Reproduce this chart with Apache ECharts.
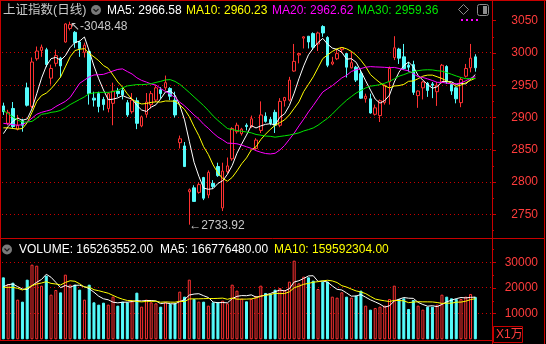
<!DOCTYPE html>
<html><head><meta charset="utf-8">
<script src="https://cdn.jsdelivr.net/npm/echarts@6/dist/echarts.min.js"></script>
<style>html,body{margin:0;padding:0;background:#000;}#c{width:546px;height:344px;}</style>
</head><body><div id="c"></div>
<script>
// ---- data ----
const opens = [2918,2891,2914,2882,2895,2946,2917,2991,3004,3005,
 2961,2984,2992,3017,3038,3032,3017,3001,3002,2930,
 2937,2928,2914,2922,2941,2942,2923,2909,2926,2887,
 2905,2920,2927,2943,2946,2945,2927,2861,2856,2785,
 2791,2784,2807,2780,2798,2824,2760,2816,2836,2878,
 2875,2888,2886,2852,2880,2902,2897,2908,2888,2926,
 2927,2972,2997,3023,3026,3030,3014,3041,3024,2983,
 2991,3005,2999,2977,2978,2968,2929,2929,2905,2903,
 2923,2955,2993,3006,2994,2981,2982,2934,2946,2953,
 2952,2940,2955,2979,2951,2946,2923,2964,2977,2994];
const closes = [2909,2908,2886,2888,2888,2919,2986,3003,3009,2982,
 2976,2996,2980,3045,3044,3016,3007,3012,2937,2927,
 2917,2920,2937,2941,2937,2935,2904,2927,2891,2901,
 2924,2937,2946,2937,2954,2933,2904,2867,2824,2788,
 2770,2796,2775,2815,2793,2810,2817,2825,2883,2888,
 2882,2886,2898,2865,2904,2894,2891,2888,2925,2931,
 2958,2987,2999,3025,3017,3009,3031,3031,2981,2986,
 2999,3008,2978,2985,2958,2930,2933,2907,2915,2926,
 2950,2976,3008,2992,2976,2978,2939,2941,2955,2942,
 2950,2950,2981,2955,2941,2929,2959,2976,2992,2977];
const highs = [2923,2912,2924,2904,2898,2954,2993,3010,3013,3008,
 2982,3005,2994,3046,3048.48,3034,3019,3016,3004,2940,
 2940,2932,2939,2954,2946,2946,2927,2938,2931,2903,
 2938,2941,2950,2947,2965,2947,2940,2872,2862,2790,
 2795,2800,2808,2818,2803,2830,2830,2838,2885,2892,
 2884,2891,2903,2868,2925,2908,2901,2912,2930,2932,
 2963,3014,3000,3026,3026,3032,3033,3043,3026,2994,
 3006,3009,3000,3002,2980,2974,2937,2937,2920,2928,
 2951,2979,3026,3008,3014,2986,2988,2942,2957,2955,
 2955,2955,2983,2981,2953,2948,2962,2983,3014,2998];
const lows = [2904,2888,2883,2880,2878,2917,2914,2988,2994,2978,
 2951,2979,2962,3016,3035,3008,2994,2993,2920,2917,
 2908,2911,2908,2888,2932,2928,2901,2906,2882,2885,
 2900,2914,2924,2929,2942,2927,2900,2852,2824,2733.92,
 2770,2782,2772,2775,2790,2808,2755,2813,2833,2875,
 2872,2880,2884,2850,2876,2892,2888,2876,2885,2917,
 2925,2971,2984,3007,3007,3005,3003,3025,2978,2981,
 2989,3000,2962,2976,2955,2929,2923,2906,2903,2893,
 2920,2920,2989,2983,2974,2971,2935,2915,2928,2932,
 2930,2918,2953,2952,2935,2922,2916,2962,2970,2971];
// volume in units of 10,000 (X1万)
const volumes = [24160,21560,22080,15460,14680,23250,29100,28700,20910,24810,
 17400,19220,18300,25200,21300,21300,19350,15460,21300,14420,
 13510,14290,13510,16630,13120,14680,14420,14810,18190,12730,
 15460,14420,14030,12730,14420,13770,14030,18580,16630,23250,
 15720,14680,14680,13120,14420,14420,15070,14030,21300,18970,
 15850,14810,15720,16890,20910,18060,17670,19350,20000,19220,
 22470,30660,21820,24420,24160,22860,19610,22470,22470,16630,
 16240,18320,16630,16240,17020,18970,13120,11560,12210,12730,
 13120,15720,20910,15720,15980,11820,15330,13120,11560,12730,
 12730,13510,17400,16630,15980,15720,15720,16630,17670,16526];
// moving-average values before enough bars are visible
const ma5Head = [2875,2886,2894,2899];
const ma10Head = [2884,2884,2883,2882,2883,2892,2908,2925,2934];
const ma20Head = [2891,2890,2889,2888,2889,2893,2899,2905,2908,2910,2912,2917,2921,2925,2931,2942,2953,2958,2963];
const ma30Head = [2911,2906,2901,2896,2893,2893,2894,2899,2905,2906,2908,2909,2911,2915,2920,2924,2928,2932,2937,2938,2939,2939,2939,2940,2942,2946,2949,2950,2951];
const vma5Head = [20520,21300,21560,20520];
const vma10Head = [20260,20260,20260,19870,19220,20000,20910,21560,21950];
const priceTicks = [2750,2800,2850,2900,2950,3000,3050];
const priceMinorTicks = [2725,2775,2825,2875,2925,2975,3025];
const priceGridLines = [2750,2800,2850,2900,2950,3000];
const volTicks = [10000,20000,30000];
const volMinorTicks = [15000,25000,35000];
const volGridLines = [10000,20000,30000];
const emptySlots = 3;

// ---- build ----
const N = closes.length;
const cats = [];
for (let i = 0; i < N + emptySlots; i++) cats.push(String(i + 1));
function ma(arr, n, head) {
  const out = [];
  for (let i = 0; i < arr.length; i++) {
    if (i < n - 1) { out.push(head[i]); continue; }
    let s = 0; for (let k = i - n + 1; k <= i; k++) s += arr[k];
    out.push(+(s / n).toFixed(2));
  }
  return out;
}
const kData = opens.map((o, i) => [o, closes[i], lows[i], highs[i]]);
const RED = '#ff3232', CYAN = '#54fcfc', AX = '#c80000', LBL = '#ff3c3c', GRIDC = '#c80000';
const FONT = '"Liberation Sans", Arial, sans-serif';
const volData = volumes.map((v, i) => closes[i] >= opens[i]
  ? { value: v, itemStyle: { color: '#000', borderColor: RED, borderWidth: 1 } }
  : { value: v, itemStyle: { color: CYAN, borderColor: CYAN, borderWidth: 1 } });
let hiIdx = 0, loIdx = 0;
highs.forEach((h, i) => { if (h > highs[hiIdx]) hiIdx = i; });
lows.forEach((l, i) => { if (l < lows[loIdx]) loIdx = i; });

function lineS(name, data, color, xi, yi) {
  return { name, type: 'line', data, xAxisIndex: xi, yAxisIndex: yi, showSymbol: false, symbol: 'none',
    lineStyle: { color, width: 1 }, itemStyle: { color }, silent: true, z: 3 };
}
function tx(text, x, y, fill, size, fam) {
  return { type: 'text', x, y, silent: true, z: 100,
    style: { text, fill, font: (size || 12) + 'px ' + (fam || FONT), verticalAlign: 'middle' } };
}
const plain = v => String(Math.round(v));
const P_TOP = 16, P_H = 222, P_MIN = 2713.3, P_MAX = 3057.3;
const V_TOP = 240, V_H = 99.3, V_MAX = 38713;
const G_LEFT = 1, G_RIGHT = 54, W = 546;

const decor = [
  { type: 'line', silent: true, z: 90, shape: { x1: 0.5, y1: 0, x2: 0.5, y2: 341 }, style: { stroke: AX, lineWidth: 1 } },
  { type: 'line', silent: true, z: 90, shape: { x1: 0, y1: 0.5, x2: 546, y2: 0.5 }, style: { stroke: AX, lineWidth: 1 } },
  { type: 'line', silent: true, z: 90, shape: { x1: 544.5, y1: 0, x2: 544.5, y2: 344 }, style: { stroke: AX, lineWidth: 1 } },
  { type: 'line', silent: true, z: 90, shape: { x1: 0, y1: 340.5, x2: 493, y2: 340.5 }, style: { stroke: AX, lineWidth: 1 } },
  { type: 'line', silent: true, z: 90, shape: { x1: 0, y1: 238.5, x2: 545, y2: 238.5 }, style: { stroke: AX, lineWidth: 1 } },
  { type: 'line', silent: true, z: 90, shape: { x1: 492.5, y1: 0, x2: 492.5, y2: 344 }, style: { stroke: AX, lineWidth: 1 } },
  { type: 'rect', silent: true, z: 90, shape: { x: 493.5, y: 326.5, width: 29, height: 16 }, style: { fill: 'none', stroke: AX, lineWidth: 1 } },
  tx('X1万', 496, 335, LBL, 12, '"Liberation Sans", "Noto Sans CJK SC", sans-serif'),
  tx('上证指数(日线)', 3, 10.5, '#c8c8c8', 12.5, '"Liberation Sans", "Noto Sans CJK SC", sans-serif'),
  { type: 'circle', silent: true, z: 100, shape: { cx: 96, cy: 10, r: 5 }, style: { fill: '#7a7a7a' } },
  { type: 'polyline', silent: true, z: 101, shape: { points: [[93.5, 9], [96, 11.5], [98.5, 9]] }, style: { stroke: '#1a1a1a', lineWidth: 1.2, fill: 'none' } },
  tx('MA5: 2966.58', 107, 10.5, '#ffffff'),
  tx('MA10: 2960.23', 186, 10.5, '#ffff00'),
  tx('MA20: 2962.62', 272, 10.5, '#ff00ff'),
  tx('MA30: 2959.36', 357, 10.5, '#00e600'),
  { type: 'polygon', silent: true, z: 100, shape: { points: [[463.5, 4.5], [468.5, 9.5], [463.5, 14.5], [458.5, 9.5]] }, style: { fill: 'none', stroke: '#8c8c8c', lineWidth: 1 } },
  { type: 'rect', silent: true, z: 100, shape: { x: 477.5, y: 4.5, width: 11, height: 11, r: 2 }, style: { fill: 'none', stroke: '#8c8c8c', lineWidth: 1 } },
  { type: 'rect', silent: true, z: 100, shape: { x: 483, y: 6, width: 4, height: 8 }, style: { fill: '#8c8c8c' } },
  { type: 'rect', silent: true, z: 100, shape: { x: 461, y: 19, width: 2, height: 2 }, style: { fill: '#ff00ff' } },
  { type: 'rect', silent: true, z: 100, shape: { x: 466, y: 19, width: 2, height: 2 }, style: { fill: '#ff00ff' } },
  { type: 'rect', silent: true, z: 100, shape: { x: 471, y: 19, width: 2, height: 2 }, style: { fill: '#ff00ff' } },
  { type: 'rect', silent: true, z: 100, shape: { x: 476, y: 19, width: 2, height: 2 }, style: { fill: '#ff00ff' } },
  { type: 'circle', silent: true, z: 100, shape: { cx: 7, cy: 249.5, r: 5 }, style: { fill: '#7a7a7a' } },
  { type: 'polyline', silent: true, z: 101, shape: { points: [[4.5, 248.5], [7, 251], [9.5, 248.5]] }, style: { stroke: '#1a1a1a', lineWidth: 1.2, fill: 'none' } },
  tx('VOLUME: 165263552.00', 19, 249.5, '#ffffff'),
  tx('MA5: 166776480.00', 160, 249.5, '#ffffff'),
  tx('MA10: 159592304.00', 274, 249.5, '#ffff00')
];

const chart = echarts.init(document.getElementById('c'), null, { renderer: 'canvas' });
chart.setOption({
  animation: false,
  backgroundColor: '#000',
  grid: [
    { left: G_LEFT, right: G_RIGHT, top: P_TOP, height: P_H },
    { left: G_LEFT, right: G_RIGHT, top: V_TOP, height: V_H }
  ],
  xAxis: [0, 1].map(g => ({ type: 'category', gridIndex: g, data: cats, boundaryGap: true,
    axisLine: { show: false }, axisTick: { show: false }, axisLabel: { show: false }, splitLine: { show: false } })),
  yAxis: [
    { gridIndex: 0, position: 'right', min: P_MIN, max: P_MAX, axisLine: { show: false },
      axisTick: { show: true, customValues: priceTicks, length: 4, lineStyle: { color: AX } },
      axisLabel: { customValues: priceTicks, formatter: plain, align: 'right', margin: 46, color: LBL, fontSize: 12, fontFamily: FONT },
      splitLine: { show: false } },
    { gridIndex: 0, position: 'right', min: P_MIN, max: P_MAX, axisLine: { show: false },
      axisTick: { show: true, customValues: priceMinorTicks, length: 2, lineStyle: { color: AX } },
      axisLabel: { show: false }, splitLine: { show: false } },
    { gridIndex: 1, position: 'right', min: 0, max: V_MAX, axisLine: { show: false },
      axisTick: { show: true, customValues: volTicks, length: 4, lineStyle: { color: AX } },
      axisLabel: { customValues: volTicks, formatter: plain, align: 'right', margin: 46, color: LBL, fontSize: 12, fontFamily: FONT },
      splitLine: { show: false } },
    { gridIndex: 1, position: 'right', min: 0, max: V_MAX, axisLine: { show: false },
      axisTick: { show: true, customValues: volMinorTicks, length: 2, lineStyle: { color: AX } },
      axisLabel: { show: false }, splitLine: { show: false } }
  ],
  series: [
    { type: 'candlestick', data: kData, xAxisIndex: 0, yAxisIndex: 0, barWidth: 3, z: 2,
      itemStyle: { color: '#000', color0: CYAN, borderColor: RED, borderColor0: CYAN, borderWidth: 1 },
      markPoint: { silent: true, symbol: 'circle', symbolSize: 0,
        label: { show: true, position: 'right', distance: 0, color: '#c8c8c8', fontSize: 12, fontFamily: FONT },
        data: [
          { coord: [hiIdx, highs[hiIdx]], value: highs[hiIdx], label: { formatter: '↖-' + highs[hiIdx].toFixed(2), offset: [0, 5] } },
          { coord: [loIdx, lows[loIdx]], value: lows[loIdx], label: { formatter: '←' + lows[loIdx].toFixed(2), offset: [0, 1] } }
        ] } },
    lineS('MA5', ma(closes, 5, ma5Head), '#ffffff', 0, 0),
    lineS('MA10', ma(closes, 10, ma10Head), '#ffff00', 0, 0),
    lineS('MA20', ma(closes, 20, ma20Head), '#ff00ff', 0, 0),
    lineS('MA30', ma(closes, 30, ma30Head), '#00e600', 0, 0),
    { type: 'bar', data: volData, xAxisIndex: 1, yAxisIndex: 2, barWidth: 3, silent: true, z: 2 },
    lineS('VMA5', ma(volumes, 5, vma5Head), '#ffffff', 1, 2),
    lineS('VMA10', ma(volumes, 10, vma10Head), '#ffff00', 1, 2)
  ],
  graphic: decor
});

// dotted guide lines positioned through the axes' own scales
function guide(yAxisIndex, v) {
  const py = chart.convertToPixel({ yAxisIndex }, v);
  const y = Math.floor(py) + 0.5;
  return { type: 'line', silent: true, z: 1,
    shape: { x1: G_LEFT + 1, y1: y, x2: W - G_RIGHT, y2: y },
    style: { stroke: GRIDC, lineWidth: 1, lineDash: [1, 3] } };
}
const guides = priceGridLines.map(v => guide(0, v)).concat(volGridLines.map(v => guide(2, v)));
chart.setOption({ graphic: decor.concat(guides) });
</script></body></html>
